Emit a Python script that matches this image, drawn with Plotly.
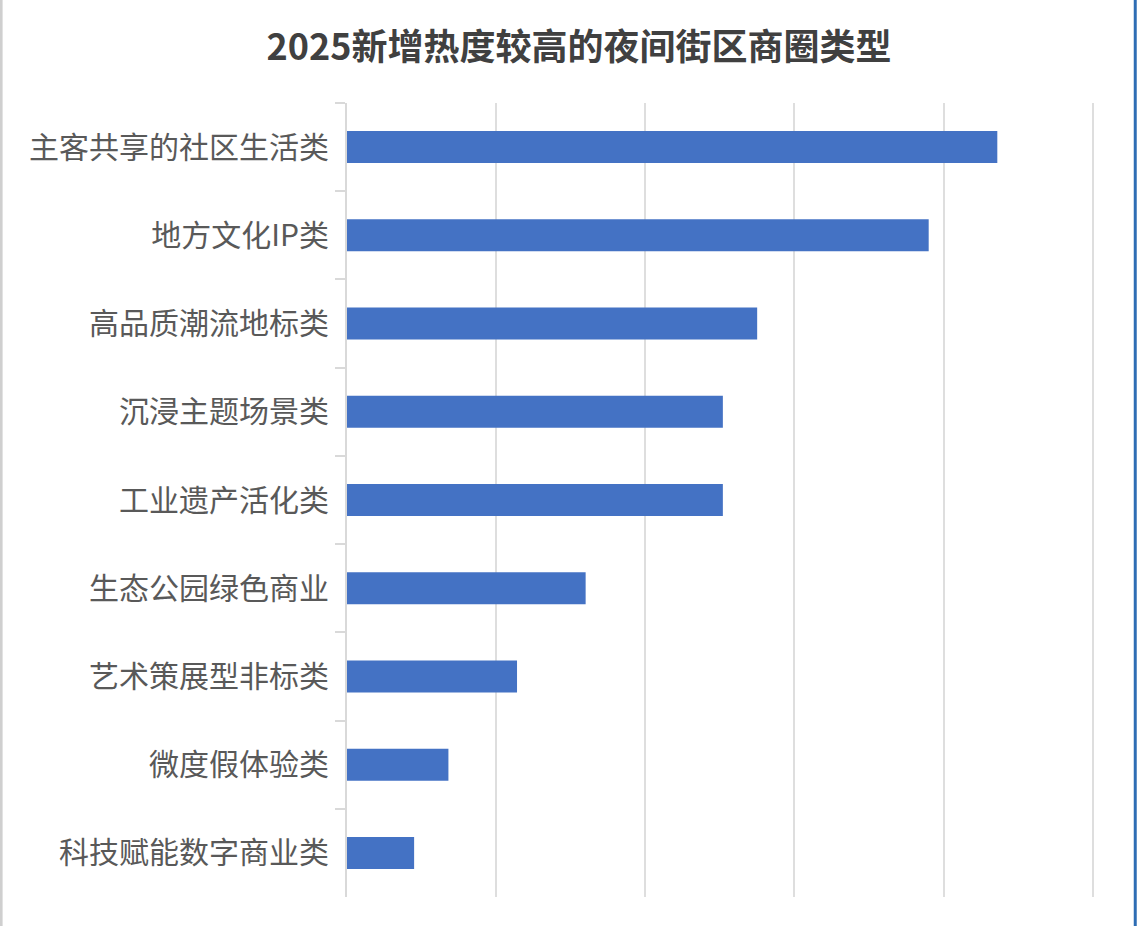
import plotly.graph_objects as go

categories = ["主客共享的社区生活类", "地方文化IP类", "高品质潮流地标类", "沉浸主题场景类",
              "工业遗产活化类", "生态公园绿色商业", "艺术策展型非标类", "微度假体验类", "科技赋能数字商业类"]
values = [43.6, 39.0, 27.5, 25.2, 25.2, 16.0, 11.4, 6.8, 4.5]
title_text = "2025新增热度较高的夜间街区商圈类型"

W, H = 1137, 926
XMAX = 50.15
ML, MT, MB = 347, 103, 29
pw = (1093 - ML) * XMAX / 50
MR = W - ML - pw

fig = go.Figure(go.Bar(
    x=values, y=categories, orientation="h",
    marker=dict(color="#4472C4", line=dict(width=0)),
    hoverinfo="x+y",
))

def px2paper(px):
    return (px - ML) / pw

ph = H - MT - MB

fig.update_layout(
    width=W, height=H,
    margin=dict(l=ML, r=MR, t=MT, b=MB, pad=0),
    paper_bgcolor="white", plot_bgcolor="white",
    bargap=0.637,
    showlegend=False,
    font=dict(family="Noto Sans CJK SC, Microsoft YaHei, sans-serif", color="#595959"),
    title=dict(text="<b>" + title_text + "</b>", x=579 / W, xanchor="center",
               y=1 - 47 / H, yanchor="middle",
               font=dict(size=36, color="#404040", family="Noto Sans CJK SC, sans-serif")),
    xaxis=dict(range=[0, XMAX], dtick=10, showticklabels=False, showgrid=True,
               gridcolor="#dedede", gridwidth=2, zeroline=False, showline=False, ticks=""),
    yaxis=dict(autorange="reversed", showline=True, linecolor="#d9d9d9", linewidth=2,
               ticks="outside", tickson="boundaries", ticklen=10, tickcolor="#d9d9d9", tickwidth=2,
               ticklabelstandoff=10,
               tickfont=dict(size=30, color="#595959"), showgrid=False),
    shapes=[
        dict(type="line", xref="paper", yref="paper", x0=px2paper(1), x1=px2paper(1),
             y0=-MB / ph, y1=1 + MT / ph, line=dict(color="#cfcfcf", width=3)),
        dict(type="line", xref="paper", yref="paper", x0=px2paper(1135.5), x1=px2paper(1135.5),
             y0=-MB / ph, y1=1 + MT / ph, line=dict(color="#2e6db4", width=3)),
    ],
)

fig.write_html("out.html")
